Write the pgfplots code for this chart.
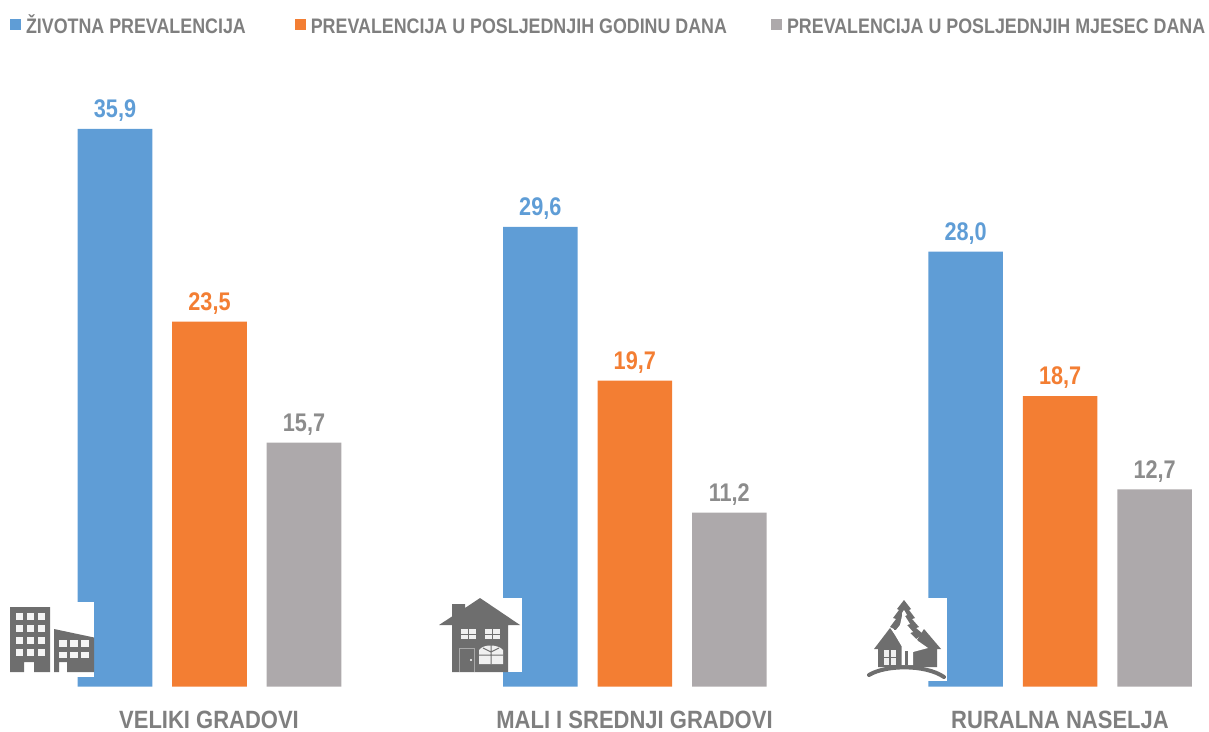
\documentclass[border=0pt]{standalone}
\usepackage{pgfplots}
\pgfplotsset{compat=1.18}
\usepackage{fontspec}
\setmainfont[FakeStretch=0.85]{Liberation Sans}
\newfontfamily\labelfont[FakeStretch=0.88]{Liberation Sans}
\definecolor{cblue}{HTML}{5F9DD6}
\definecolor{corange}{HTML}{F37E33}
\definecolor{cgray}{HTML}{ADA9AB}
\definecolor{tgray}{HTML}{7F7F7F}
\definecolor{vgray}{HTML}{8C8C8C}
\definecolor{icon}{HTML}{6E6E6E}
\begin{document}
\begin{tikzpicture}
\path[use as bounding box] (0,0) rectangle (1209pt,731pt);
\begin{axis}[
  at={(0pt,44.5pt)}, anchor=south west,
  scale only axis, width=1209pt, height=621.2pt,
  xmin=-0.4926, xmax=2.3501, ymin=0, ymax=40,
  axis lines=none,
  ybar, bar width=74.6pt,
  xtick={0,1,2}, xticklabels={VELIKI GRADOVI,MALI I SREDNJI GRADOVI,RURALNA NASELJA},
  ytick=\empty,
  clip=false,
  /pgf/number format/assume math mode=true,
  /pgf/number format/use comma,
  /pgf/number format/fixed, /pgf/number format/fixed zerofill, /pgf/number format/precision=1,
  nodes near coords,
  every node near coord/.append style={font=\fontsize{25.5}{25.5}\selectfont\bfseries, inner sep=0pt, yshift=7pt},
  legend columns=3,
  legend cell align=left,
  legend image code/.code={\fill[#1] (0pt,-5.5pt) rectangle (11pt,5.5pt);},
  legend style={at={(axis description cs:0.0,1.0)}, anchor=north west, draw=none, fill=none,
    font=\fontsize{21}{21}\selectfont\bfseries\color{tgray}, inner sep=0pt, outer sep=0pt,
    xshift=10pt, yshift=53pt,
    /tikz/every odd column/.append style={column sep=3pt},
    /tikz/column 2/.style={column sep=47pt},
    /tikz/column 4/.style={column sep=42pt}},
]
\addplot[bar shift=-94.5pt, fill=cblue, draw=none, every node near coord/.append style={text=cblue}] coordinates {(0,35.9) (1,29.6) (2,28.0)};
\addplot[bar shift=0pt, fill=corange, draw=none, every node near coord/.append style={text=corange}] coordinates {(0,23.5) (1,19.7) (2,18.7)};
\addplot[bar shift=94.5pt, fill=cgray, draw=none, every node near coord/.append style={text=vgray}] coordinates {(0,15.7) (1,11.2) (2,12.7)};
\legend{ŽIVOTNA PREVALENCIJA, \vphantom{Ž}PREVALENCIJA U POSLJEDNJIH GODINU DANA, \vphantom{Ž}PREVALENCIJA U POSLJEDNJIH MJESEC DANA}
\end{axis}
\begin{scope}[font=\fontsize{25}{25}\labelfont\bfseries, text=tgray, inner sep=0pt]
\node at (209pt,11pt) {VELIKI GRADOVI};
\node at (634.5pt,11pt) {MALI I SREDNJI GRADOVI};
\node at (1060pt,11pt) {RURALNA NASELJA};
\end{scope}
\begin{scope}[x=1pt,y=-1pt,yshift=731pt]
% icon 1: city
\fill[white] (70,602) rectangle (94,677);
\fill[icon] (10,607) -- (50,607) -- (50,672) -- (34,672) -- (34,662) -- (24,662) -- (24,672) -- (10,672) -- cycle;
\foreach \r in {0,1,2,3}\foreach \c in {0,1,2}{
  \fill[white!92!icon] (15.5+\c*11,613+\r*12) rectangle ++(7.5,6.5);}
\fill[icon] (54,629) -- (94,637.5) -- (94,672) -- (67,672) -- (67,662) -- (59,662) -- (59,672) -- (54,672) -- cycle;
\foreach \r in {0,1}\foreach \c in {0,1,2}{
  \fill[white!92!icon] (59+\c*11,640+\r*11.5) rectangle ++(7.5,6.5);}
% icon 2: house
\fill[white] (495,598) rectangle (522,672);
\fill[icon] (480,598) -- (520,625) -- (508,625) -- (508,672) -- (452,672) -- (452,625) -- (439,625) -- (452,616.5) -- (452,604) -- (465,604) -- (465,608) -- cycle;
\fill[white!90!icon] (460.5,629) rectangle (476,639);
\fill[white!90!icon] (484.5,629) rectangle (500,639);
\draw[icon,line width=1pt] (468,629) -- (468,639) (460.5,634) -- (476,634) (492,629) -- (492,639) (484.5,634) -- (500,634);
\fill[white!90!icon] (479,664) -- (479,650) .. controls (483,644) and (498,644) .. (503,650) -- (503,664) -- cycle;
\draw[icon,line width=1pt] (491,645) -- (491,664) (479,655) -- (503,655) (483,648) -- (491,652) -- (499,648);
\draw[white!40!icon,line width=0.8pt] (459,672) -- (459,648) -- (474,648) -- (474,672);
\fill[white] (471,660) circle (1.2);
% icon 3: rural
\fill[white] (922,598) rectangle (947,681);
\fill[icon] (904,600) -- (911,609) -- (909,610) -- (915,618) -- (912,619) -- (919,627) -- (916,628) -- (923,634) -- (912,642) -- (896,640) -- (894,629) -- (890,627) -- (896,619) -- (893,618) -- (899,610) -- (897,609) -- cycle;
\fill[icon] (924,629) -- (941,649) -- (937,649) -- (937,667) -- (905,667) -- (905,650) -- (917,640) -- cycle;
\fill[icon] (890,628) -- (905,648) -- (905,667) -- (878,667) -- (878,649) -- (874,649) -- cycle;
\fill[white] (904,610) -- (907,615) -- (905,616) -- (910,624) -- (907,625) -- (913,632) -- (910,633) -- (918,641) -- (928,648) -- (913,652) -- (913,665) -- (901.5,665) -- (901.5,646) -- (892,630) -- (896,630) -- (900,625) -- (902,616) -- (902,613) -- cycle;
\fill[icon] (905,651) rectangle (908,665);
\fill[white!90!icon] (884,650) rectangle (896,665);
\draw[icon,line width=1.2pt] (890,650) -- (890,665) (884,657.5) -- (896,657.5);
\draw[icon,line width=4pt,line cap=round] (869,675) .. controls (885,665) and (925,664) .. (944,677);
\end{scope}
\end{tikzpicture}
\end{document}
